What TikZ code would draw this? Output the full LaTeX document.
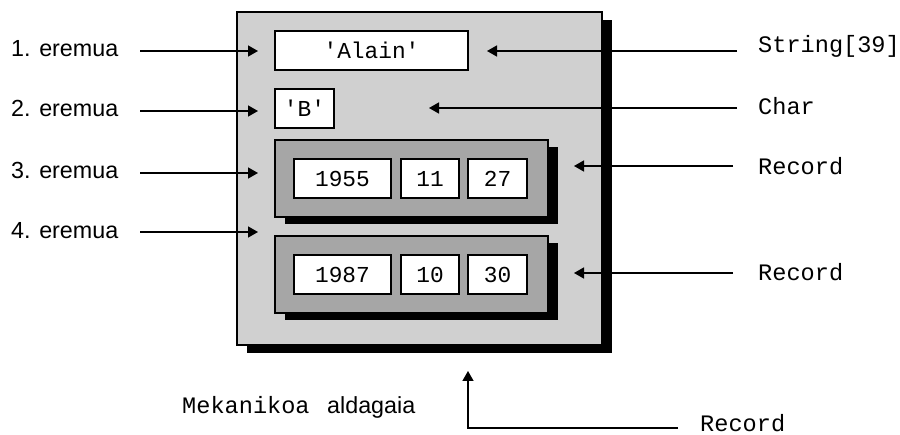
\documentclass[tikz,border=0pt]{standalone}
\usepackage{fontspec}
\setmainfont{Liberation Sans}
\setmonofont{Liberation Mono}
\usetikzlibrary{arrows.meta,shadows}
\definecolor{panel}{RGB}{208,208,208}
\definecolor{recfill}{RGB}{166,166,166}
\begin{document}
\begin{tikzpicture}[x=1pt,y=-1pt,
  sanslab/.style={font=\fontsize{23.3}{27}\selectfont, inner sep=0pt, anchor=base west},
  monolab/.style={font=\fontsize{23.6}{27}\selectfont\ttfamily, inner sep=0pt, anchor=base west},
  panelbox/.style={draw, line width=1.4pt, fill=panel,
    general shadow={fill=black, shadow xshift=10pt, shadow yshift=-8pt}},
  recbox/.style={draw, line width=1.4pt, fill=recfill, minimum width=273pt, minimum height=77pt,
    general shadow={fill=black, shadow xshift=10pt, shadow yshift=-7pt}},
  cell/.style={draw, line width=1.6pt, fill=white, minimum height=39pt, inner sep=0pt,
    font=\fontsize{22.8}{26}\selectfont\ttfamily},
  arr/.style={line width=1.4pt, -{Triangle[length=10pt,width=11pt]}}
]
\useasboundingbox (0,0) rectangle (900,435);

% variable block
\node[panelbox, minimum width=365pt, minimum height=333pt] (main) at (419.5,178.5) {};

% fields
\node[cell, minimum width=193pt] (alain) at (371.5,50.5) {'Alain'};
\node[cell, minimum width=59pt] (bchar) at (304.5,108.5) {'B'};

\node[recbox] (rec1) at (411.5,178.5) {};
\node[cell, minimum width=97pt] (y1) at (342.5,178.5) {1955};
\node[cell, minimum width=58pt] (m1) at (430,178.5) {11};
\node[cell, minimum width=59pt] (d1) at (497.5,178.5) {27};

\node[recbox] (rec2) at (411.5,274.5) {};
\node[cell, minimum width=97pt] (y2) at (342.5,274.5) {1987};
\node[cell, minimum width=58pt] (m2) at (430,274.5) {10};
\node[cell, minimum width=59pt] (d2) at (497.5,274.5) {30};

% left labels
\node[sanslab] (e1) at (11,57) {1. eremua};
\node[sanslab] (e2) at (11,117) {2. eremua};
\node[sanslab] (e3) at (11,179) {3. eremua};
\node[sanslab] (e4) at (11,239) {4. eremua};

\coordinate (e1s) at (140,51);  \coordinate (e1t) at (258,51);
\coordinate (e2s) at (140,111); \coordinate (e2t) at (258,111);
\coordinate (e3s) at (140,173); \coordinate (e3t) at (258,173);
\coordinate (e4s) at (140,232); \coordinate (e4t) at (258,232);

\draw[arr] (e1s) -- (e1t);
\draw[arr] (e2s) -- (e2t);
\draw[arr] (e3s) -- (e3t);
\draw[arr] (e4s) -- (e4t);

% right labels
\node[monolab] (tstr) at (758,53) {String[39]};
\node[monolab] (tchar) at (758,115) {Char};
\node[monolab] (trec1) at (758,175) {Record};
\node[monolab] (trec2) at (758,281) {Record};

\coordinate (r1s) at (737,51);  \coordinate (r1t) at (487,51);
\coordinate (r2s) at (737,108); \coordinate (r2t) at (429,108);
\coordinate (r3s) at (733,166); \coordinate (r3t) at (574,166);
\coordinate (r4s) at (733,273); \coordinate (r4t) at (574,273);

\draw[arr] (r1s) -- (r1t);
\draw[arr] (r2s) -- (r2t);
\draw[arr] (r3s) -- (r3t);
\draw[arr] (r4s) -- (r4t);

% bottom caption and whole-variable type
\node[monolab] (mek) at (182,414) {Mekanikoa};
\node[sanslab] (ald) at (327,414) {aldagaia};
\node[monolab] (trec0) at (700,432) {Record};

\coordinate (bs) at (678,428);
\coordinate (bt) at (468,371);
\draw[arr] (bs) -| (bt);
\end{tikzpicture}
\end{document}
